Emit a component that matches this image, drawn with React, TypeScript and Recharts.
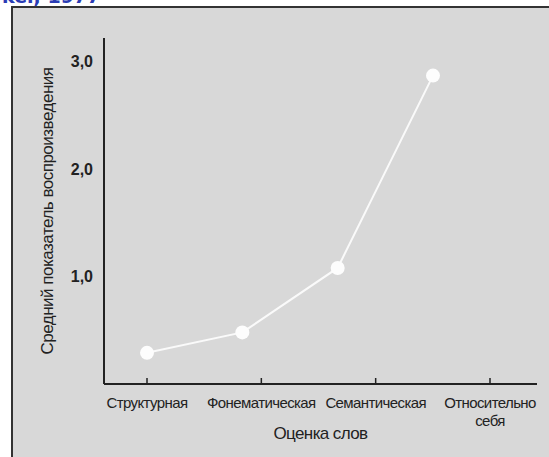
import { LineChart, Line, XAxis, YAxis } from 'recharts';

// Оценка слов (categories)
const CATEGORIES = ['Структурная', 'Фонематическая', 'Семантическая', 'Относительно себя'];
// Средний показатель воспроизведения
const RECALL = [0.29, 0.48, 1.08, 2.87];
const Y_TICKS = [1, 2, 3];

const data = CATEGORIES.map((name, i) => ({ name, recall: RECALL[i] }));

const FONT = '"Liberation Sans", Arial, sans-serif';
const INK = '#222';

// тик: короткая черта вверх и подпись (может быть в две строки)
const CategoryTick = (props: any) => {
  const { x, y, payload } = props;
  const words = String(payload.value).split(' ');
  return (
    <g>
      <line x1={x} y1={y} x2={x} y2={y - 6} stroke={INK} strokeWidth={1.5} />
      <text x={x} y={y + 24} textAnchor="middle" fill={INK} fontSize={15} fontFamily={FONT} letterSpacing={-0.6}>
        {words.map((w: string, i: number) => (
          <tspan key={w} x={x} dy={i === 0 ? 0 : 18}>{w}</tspan>
        ))}
      </text>
    </g>
  );
};

export default function App() {
  return (
    <div style={{ position: 'absolute', left: 0, top: 0, width: 549, height: 457, overflow: 'hidden', background: '#fff' }}>
      <div style={{ position: 'absolute', left: 2, top: -15, color: '#2a3cb4', fontFamily: '"DejaVu Sans", sans-serif', fontWeight: 'bold', fontSize: 19 }}>
        ker, 1977
      </div>
      <div style={{ position: 'absolute', left: 11, top: 6, width: 560, height: 470, background: '#d8d8d8', border: '2px solid #333' }} />
      <div style={{ position: 'absolute', left: 0, top: 0 }}>
        <LineChart width={549} height={457} data={data} margin={{ top: 38, right: 12, bottom: 0, left: 44 }}>
          <XAxis
            xAxisId="labels"
            dataKey="name"
            height={73}
            padding={{ left: 43, right: 47 }}
            axisLine={{ stroke: INK, strokeWidth: 2 }}
            tickLine={false}
            tickSize={0}
            tickMargin={0}
            interval={0}
            tick={<CategoryTick />}
            label={{ value: 'Оценка слов', position: 'insideBottom', offset: 18, fill: INK, fontSize: 17, fontFamily: FONT, letterSpacing: -0.6 }}
          />
          <XAxis xAxisId="pts" dataKey="name" hide padding={{ left: 43, right: 104 }} />
          <YAxis
            width={60}
            domain={[0, 3.22]}
            ticks={Y_TICKS}
            tickFormatter={(v: number) => v.toFixed(1).replace('.', ',')}
            axisLine={{ stroke: INK, strokeWidth: 2 }}
            tickLine={false}
            tickMargin={5}
            tick={{ fill: INK, fontSize: 16, fontFamily: FONT, fontWeight: 'bold' }}
            label={{
              value: 'Средний показатель воспроизведения',
              angle: -90,
              position: 'insideLeft',
              offset: 3,
              style: { textAnchor: 'middle' },
              fill: INK,
              fontSize: 17,
              fontFamily: FONT,
              letterSpacing: -0.5,
            }}
          />
          <Line
            xAxisId="pts"
            dataKey="recall"
            stroke="#fafafa"
            strokeWidth={2}
            dot={{ r: 7, fill: '#fdfdfd', stroke: 'none' }}
            isAnimationActive={false}
          />
        </LineChart>
      </div>
    </div>
  );
}
